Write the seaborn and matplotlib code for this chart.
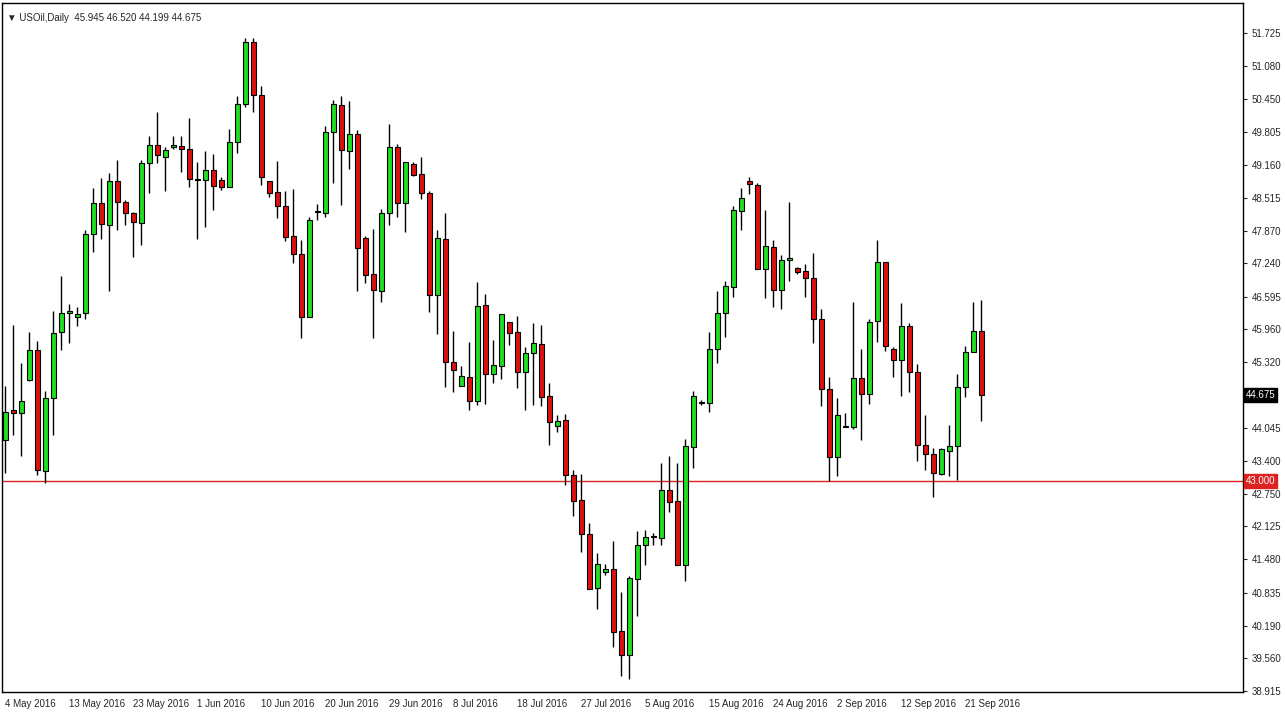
import matplotlib
matplotlib.use("Agg")
import matplotlib.pyplot as plt
import seaborn as sns
import numpy as np

sns.set_style("white")
plt.rcParams["font.family"] = ["Liberation Sans", "DejaVu Sans"]

# daily OHLC, USOil
opens = [43.81, 44.38, 44.33, 44.98, 45.56, 43.20, 44.62, 45.90, 46.28, 46.20,
         46.28, 47.82, 48.41, 47.99, 48.85, 48.43, 48.22, 48.03, 49.19, 49.54,
         49.32, 49.50, 49.53, 49.47, 48.86, 48.86, 49.06, 48.86, 48.73, 49.60,
         50.34, 51.56, 50.51, 48.85, 48.63, 48.36, 47.77, 47.43, 46.20, 48.24,
         48.23, 49.79, 50.33, 49.42, 49.76, 47.73, 47.04, 46.70, 48.22, 49.50,
         48.41, 49.17, 48.98, 48.61, 46.62, 47.72, 45.33, 44.85, 45.03, 44.56,
         46.44, 45.09, 45.24, 46.10, 45.90, 45.12, 45.50, 45.68, 44.67, 44.08,
         44.20, 43.13, 42.63, 41.98, 40.93, 41.23, 41.29, 40.09, 39.62, 41.10,
         41.76, 41.91, 41.90, 42.84, 42.61, 41.37, 43.67, 44.53, 44.52, 45.57,
         46.27, 46.79, 48.27, 48.85, 48.77, 47.13, 47.56, 46.72, 47.31, 47.15,
         47.10, 46.96, 46.16, 44.80, 43.48, 44.06, 44.06, 45.01, 44.70, 46.13,
         47.27, 45.58, 45.37, 46.02, 45.13, 43.70, 43.53, 43.14, 43.60, 43.68,
         44.84, 45.52, 45.93]
highs = [44.85, 46.05, 45.30, 45.90, 45.74, 44.75, 46.32, 46.99, 46.46, 46.40,
         47.90, 48.70, 48.90, 49.01, 49.26, 48.48, 48.25, 49.26, 49.72, 50.18,
         49.50, 49.73, 49.73, 50.07, 49.21, 49.42, 49.37, 48.93, 49.85, 50.50,
         51.62, 51.62, 50.69, 48.85, 49.24, 48.65, 48.69, 47.70, 48.14, 48.40,
         49.92, 50.42, 50.50, 50.40, 49.84, 47.78, 47.91, 48.30, 49.96, 49.57,
         49.21, 49.22, 49.31, 48.65, 47.90, 48.22, 45.93, 45.25, 45.72, 46.88,
         46.65, 45.76, 46.26, 46.10, 46.22, 45.61, 46.09, 46.05, 44.91, 44.30,
         44.32, 43.22, 43.15, 42.18, 41.61, 41.39, 41.83, 40.85, 41.15, 42.03,
         42.05, 42.00, 43.36, 43.49, 43.36, 43.82, 44.75, 44.59, 45.90, 46.70,
         46.90, 48.35, 48.70, 48.93, 48.81, 48.28, 47.70, 47.40, 48.43, 47.18,
         47.23, 47.45, 46.35, 45.03, 44.62, 44.33, 46.50, 45.58, 46.16, 47.70,
         47.27, 45.61, 46.47, 46.08, 45.28, 44.30, 43.65, 43.65, 44.10, 45.08,
         45.64, 46.50, 46.52]
lows = [43.17, 43.91, 43.49, 44.95, 43.13, 42.97, 43.91, 45.56, 45.70, 46.02,
        46.16, 47.47, 47.71, 46.70, 47.89, 47.99, 47.36, 47.60, 48.62, 49.19,
        48.66, 49.47, 49.03, 48.73, 47.71, 47.95, 48.28, 48.68, 48.73, 49.40,
        50.28, 50.19, 48.76, 48.54, 48.12, 47.67, 47.25, 45.79, 46.20, 48.09,
        48.15, 48.81, 48.37, 49.07, 46.70, 46.87, 45.79, 46.50, 47.98, 48.14,
        47.86, 48.95, 48.49, 46.29, 45.87, 44.83, 44.73, 44.85, 44.38, 44.49,
        44.51, 44.91, 45.00, 45.65, 44.82, 44.39, 44.49, 44.47, 43.70, 43.97,
        42.92, 42.32, 41.62, 40.90, 40.51, 41.17, 39.78, 39.21, 39.15, 40.38,
        41.38, 41.76, 41.76, 42.41, 41.37, 41.06, 43.26, 44.49, 44.34, 45.30,
        45.80, 46.58, 47.89, 48.60, 47.13, 46.57, 46.40, 46.35, 46.90, 47.03,
        46.58, 45.70, 44.46, 43.00, 43.10, 44.06, 44.01, 43.80, 44.50, 45.72,
        45.53, 45.04, 44.67, 44.73, 43.39, 43.22, 42.70, 43.13, 43.11, 43.02,
        44.65, 45.52, 44.17]
closes = [44.34, 44.33, 44.57, 45.56, 43.23, 44.62, 45.89, 46.28, 46.31, 46.26,
          47.82, 48.41, 48.00, 48.85, 48.43, 48.22, 48.04, 49.19, 49.54, 49.35,
          49.44, 49.55, 49.46, 48.88, 48.88, 49.06, 48.74, 48.73, 49.60, 50.34,
          51.56, 50.51, 48.92, 48.62, 48.35, 47.76, 47.42, 46.20, 48.09, 48.26,
          49.79, 50.34, 49.44, 49.76, 47.54, 47.01, 46.72, 48.22, 49.50, 48.41,
          49.21, 48.96, 48.61, 46.62, 47.73, 45.32, 45.16, 45.06, 44.56, 46.42,
          45.09, 45.27, 46.26, 45.89, 45.12, 45.50, 45.70, 44.65, 44.16, 44.18,
          43.12, 42.61, 41.97, 40.91, 41.39, 41.30, 40.07, 39.62, 41.11, 41.77,
          41.91, 41.93, 42.84, 42.60, 41.37, 43.68, 44.67, 44.55, 45.57, 46.27,
          46.81, 48.28, 48.51, 48.78, 47.13, 47.58, 46.72, 47.31, 47.35, 47.07,
          46.95, 46.16, 44.80, 43.48, 44.29, 44.08, 45.01, 44.70, 46.10, 47.27,
          45.63, 45.37, 46.02, 45.12, 43.70, 43.53, 43.17, 43.62, 43.68, 44.84,
          45.52, 45.93, 44.675]

date_labels = ["4 May 2016", "13 May 2016", "23 May 2016", "1 Jun 2016", "10 Jun 2016",
               "20 Jun 2016", "29 Jun 2016", "8 Jul 2016", "18 Jul 2016", "27 Jul 2016",
               "5 Aug 2016", "15 Aug 2016", "24 Aug 2016", "2 Sep 2016", "12 Sep 2016",
               "21 Sep 2016"]
price_ticks = [51.725, 51.080, 50.450, 49.805, 49.160, 48.515, 47.870, 47.240, 46.595,
               45.960, 45.320, 44.045, 43.400, 42.750, 42.125, 41.480, 40.835,
               40.190, 39.560, 38.915]
level_line = 43.000
last_price = 44.675

o = np.array(opens); h = np.array(highs); l = np.array(lows); c = np.array(closes)
x = np.arange(len(o))
up = c >= o

fig = plt.figure(figsize=(12.85, 7.19), dpi=100)
ax = fig.add_axes([2 / 1285, 27 / 719, 1241 / 1285, 689 / 719])

ax.vlines(x, l, h, color="black", linewidth=1, zorder=1)
ax.bar(x[up], (c - o)[up], bottom=o[up], width=0.62, color="#22dd22",
       edgecolor="black", linewidth=0.8, zorder=2)
ax.bar(x[~up], (c - o)[~up], bottom=o[~up], width=0.62, color="#dd1111",
       edgecolor="black", linewidth=0.8, zorder=2)

ax.axhline(level_line, color="#dd2222", linewidth=1, zorder=0)

ax.set_xlim(-0.4, 154.75)
ax.set_ylim(38.90, 52.31)

ax.yaxis.tick_right()
ax.set_yticks(price_ticks + [last_price])
ax.set_yticklabels([f"{p:.3f}" for p in price_ticks] + [""])
ax.tick_params(axis="y", direction="out", length=3, labelsize=7, pad=3)
ax.tick_params(axis="x", direction="out", length=3, labelsize=7, pad=2)
ax.set_xticks(np.arange(len(date_labels)) * 8)
ax.set_xticklabels(date_labels, ha="left")
for sp in ax.spines.values():
    sp.set_color("black")
    sp.set_linewidth(1)

# boxed price labels on the right scale
ax.text(1.002, last_price, f"{last_price:.3f}", transform=ax.get_yaxis_transform(),
        va="center", ha="left", fontsize=7, color="white",
        bbox=dict(boxstyle="square,pad=0.2", fc="black", ec="black"))
ax.text(1.002, level_line, f"{level_line:.3f}", transform=ax.get_yaxis_transform(),
        va="center", ha="left", fontsize=7, color="white",
        bbox=dict(boxstyle="square,pad=0.2", fc="#dd2222", ec="#dd2222"))

ax.text(0.004, 0.986, "\u25bc USOil,Daily  45.945 46.520 44.199 44.675", transform=ax.transAxes,
        fontsize=7, va="top", ha="left", family=["Liberation Sans", "DejaVu Sans"])

plt.savefig("out.png", dpi=100)
